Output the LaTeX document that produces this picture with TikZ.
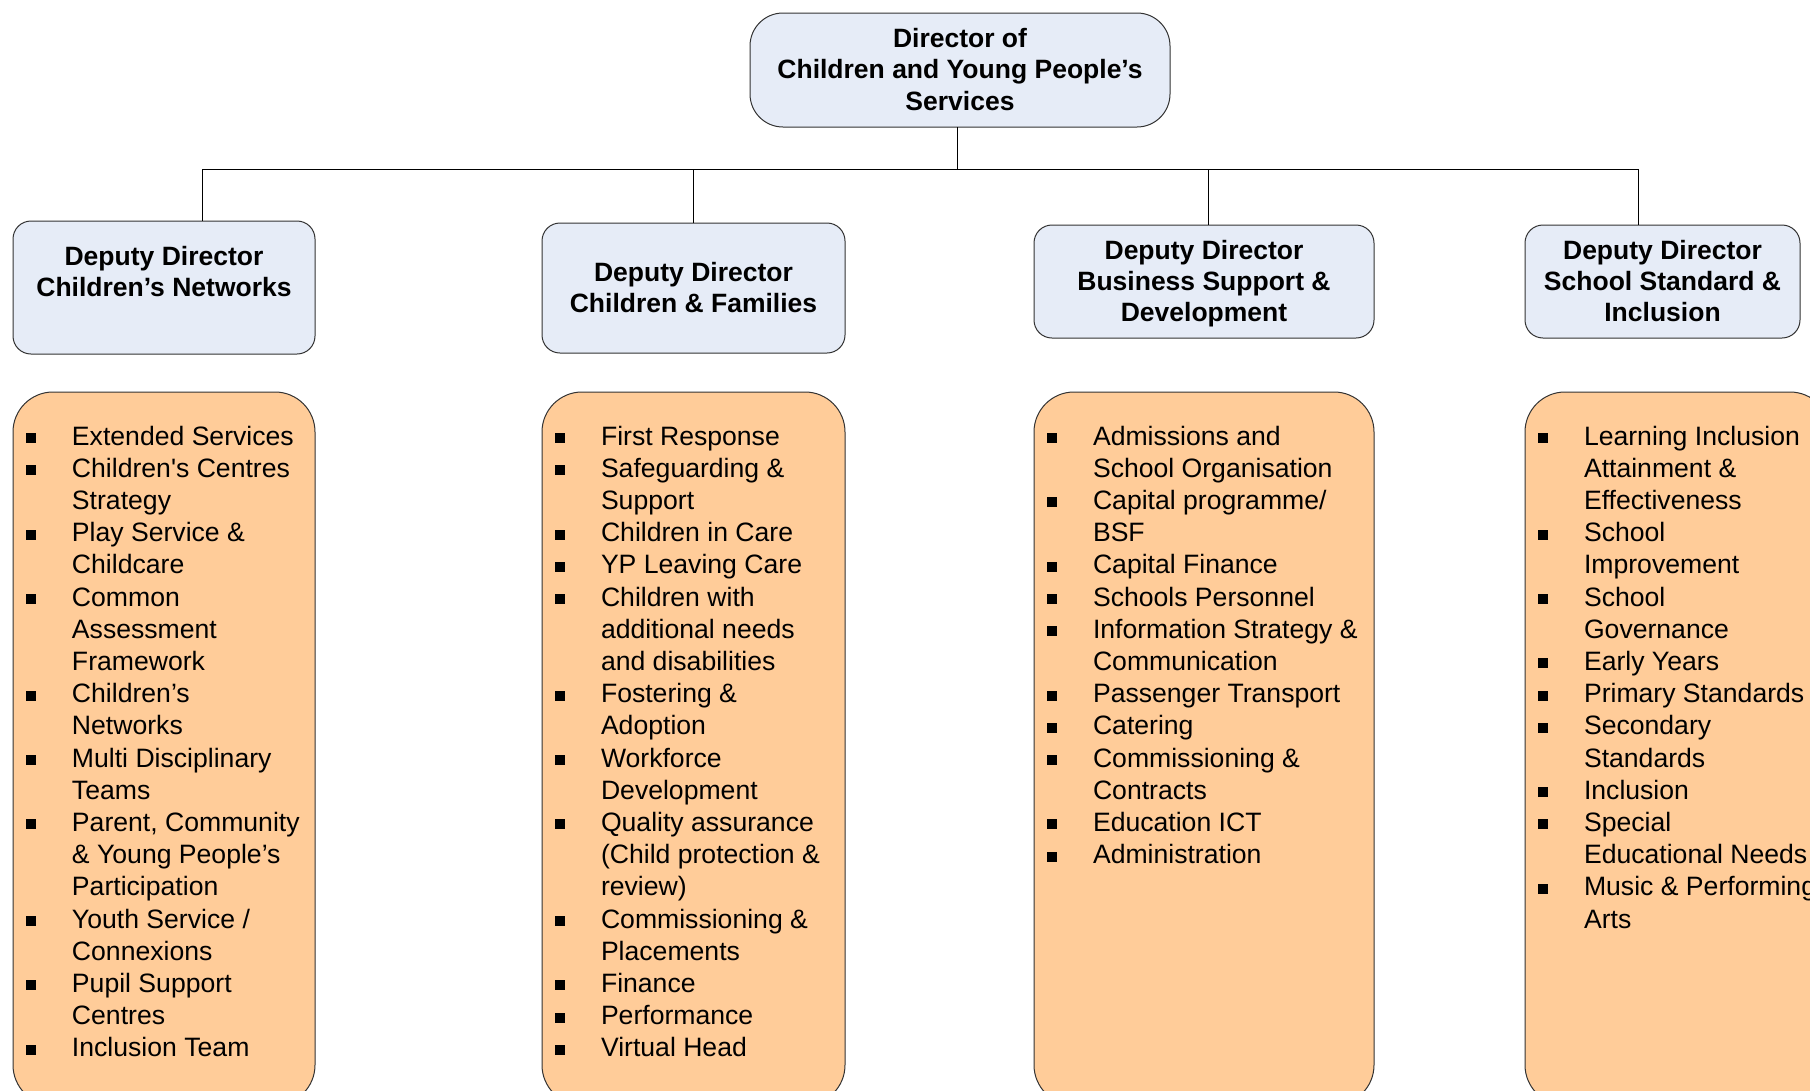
\documentclass[tikz,border=0pt]{standalone}
\usepackage{fontspec}
\setmainfont{Liberation Sans}
\definecolor{hdrblue}{HTML}{E6ECF7}
\definecolor{listorange}{HTML}{FFCC99}
\newcommand{\listbul}[1]{\makebox[46.5pt][l]{\rule[2pt]{10.5pt}{10pt}}#1}
\newcommand{\listcont}[1]{\hspace*{46.5pt}#1}
\newcommand{\hdrtop}{\rule{0pt}{27.5pt}}
\begin{document}
\begin{tikzpicture}[x=1pt,y=-1pt,
  boxbase/.style={draw=black!80, line width=1pt, inner sep=0pt, outer sep=0pt},
  topbox/.style={boxbase, fill=hdrblue, rounded corners=33pt, align=center,
    font=\fontsize{26.5}{31.7}\selectfont\bfseries},
  hdr/.style={boxbase, fill=hdrblue, rounded corners=18pt, align=center,
    font=\fontsize{26.5}{31.4}\selectfont\bfseries},
  listbox/.style={boxbase, fill=listorange, rounded corners=40pt},
  listtext/.style={anchor=north west, inner sep=0pt, outer sep=0pt, align=left,
    font=\fontsize{26.6}{32.2}\selectfont},
  conn/.style={draw=black, line width=1pt}
]
\useasboundingbox (0,0) rectangle (1810,1090);
\clip (0,0) rectangle (1810,1090);
\fill[white] (0,0) rectangle (1810,1090);

% director
\node[topbox, minimum width=420pt, minimum height=114pt] (dir) at (960,70)
  {\hdrtop Director of\\Children and Young People’s\\Services\strut};

% deputies
\node[hdr, minimum width=302pt, minimum height=133pt] (d1) at (164,287.5)
  {\hdrtop Deputy Director\\Children’s Networks\\\strut};
\node[hdr, minimum width=303pt, minimum height=130pt] (d2) at (693.5,288)
  {\hdrtop Deputy Director\\Children \& Families\strut};
\node[hdr, minimum width=340pt, minimum height=113pt] (d3) at (1204,281.5)
  {\hdrtop Deputy Director\\Business Support \&\\Development\strut};
\node[hdr, minimum width=275pt, minimum height=113pt] (d4) at (1662.5,281.5)
  {\hdrtop Deputy Director\\School Standard \&\\Inclusion\strut};

% connectors
\coordinate (j1) at (202,169);
\coordinate (j2) at (693,169);
\coordinate (j3) at (1208,169);
\coordinate (j4) at (1638,169);
\draw[conn] (dir.south -| 957,0) -- (957,169);
\draw[conn] (j1) -- (j4);
\draw[conn] (j1) -- (j1 |- d1.north);
\draw[conn] (j2) -- (j2 |- d2.north);
\draw[conn] (j3) -- (j3 |- d3.north);
\draw[conn] (j4) -- (j4 |- d4.north);

% orange list boxes
\node[listbox, minimum width=302pt, minimum height=713pt] (o1) at (164,748.5) {};
\node[listbox, minimum width=303pt, minimum height=713pt] (o2) at (693.5,748.5) {};
\node[listbox, minimum width=340pt, minimum height=713pt] (o3) at (1204,748.5) {};
\node[listbox, minimum width=305pt, minimum height=713pt] (o4) at (1677.5,748.5) {};

\node[listtext] (l1) at (25.5,422.5) {\strut\listbul{Extended Services}\\
\listbul{Children\textquotesingle s Centres}\\
\listcont{Strategy}\\
\listbul{Play Service \&}\\
\listcont{Childcare}\\
\listbul{Common}\\
\listcont{Assessment}\\
\listcont{Framework}\\
\listbul{Children’s}\\
\listcont{Networks}\\
\listbul{Multi Disciplinary}\\
\listcont{Teams}\\
\listbul{Parent, Community}\\
\listcont{\& Young People’s}\\
\listcont{Participation}\\
\listbul{Youth Service /}\\
\listcont{Connexions}\\
\listbul{Pupil Support}\\
\listcont{Centres}\\
\listbul{Inclusion Team}};

\node[listtext] (l2) at (554.5,422.5) {\strut\listbul{First Response}\\
\listbul{Safeguarding \&}\\
\listcont{Support}\\
\listbul{Children in Care}\\
\listbul{YP Leaving Care}\\
\listbul{Children with}\\
\listcont{additional needs}\\
\listcont{and disabilities}\\
\listbul{Fostering \&}\\
\listcont{Adoption}\\
\listbul{Workforce}\\
\listcont{Development}\\
\listbul{Quality assurance}\\
\listcont{(Child protection \&}\\
\listcont{review)}\\
\listbul{Commissioning \&}\\
\listcont{Placements}\\
\listbul{Finance}\\
\listbul{Performance}\\
\listbul{Virtual Head}};

\node[listtext] (l3) at (1046.5,422.5) {\strut\listbul{Admissions and}\\
\listcont{School Organisation}\\
\listbul{Capital programme/}\\
\listcont{BSF}\\
\listbul{Capital Finance}\\
\listbul{Schools Personnel}\\
\listbul{Information Strategy \&}\\
\listcont{Communication}\\
\listbul{Passenger Transport}\\
\listbul{Catering}\\
\listbul{Commissioning \&}\\
\listcont{Contracts}\\
\listbul{Education ICT}\\
\listbul{Administration}};

\node[listtext] (l4) at (1537.5,422.5) {\strut\listbul{Learning Inclusion}\\
\listcont{Attainment \&}\\
\listcont{Effectiveness}\\
\listbul{School}\\
\listcont{Improvement}\\
\listbul{School}\\
\listcont{Governance}\\
\listbul{Early Years}\\
\listbul{Primary Standards}\\
\listbul{Secondary}\\
\listcont{Standards}\\
\listbul{Inclusion}\\
\listbul{Special}\\
\listcont{Educational Needs}\\
\listbul{Music \& Performing}\\
\listcont{Arts}};
\end{tikzpicture}
\end{document}
